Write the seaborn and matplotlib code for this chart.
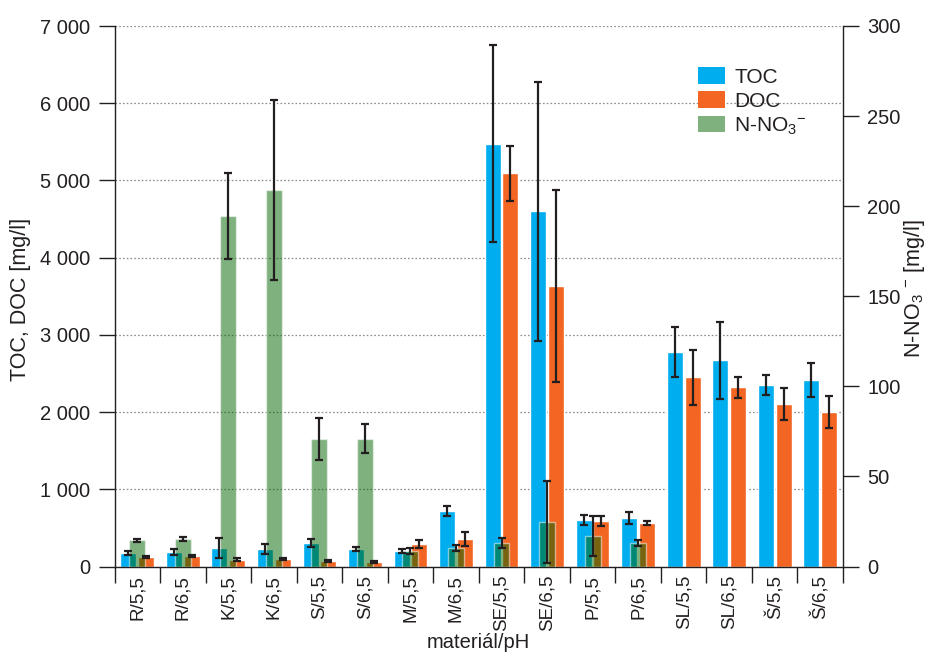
import numpy as np
import pandas as pd
import matplotlib
matplotlib.use("Agg")
import matplotlib.pyplot as plt
import matplotlib.ticker as mticker
from matplotlib.patches import Patch
import seaborn as sns

# ---------------- data ----------------
categories = ["R/5,5", "R/6,5", "K/5,5", "K/6,5", "S/5,5", "S/6,5", "M/5,5", "M/6,5",
              "SE/5,5", "SE/6,5", "P/5,5", "P/6,5", "SL/5,5", "SL/6,5", "Š/5,5", "Š/6,5"]
toc = [175, 188, 240, 227, 304, 227, 201, 719, 5475, 4600, 602, 628, 2780, 2670, 2347, 2412]
toc_err = [28, 35, 134, 60, 47, 23, 30, 65, 1276, 1677, 65, 78, 320, 500, 130, 220]
doc = [123, 136, 90, 95, 70, 60, 291, 356, 5090, 3634, 589, 563, 2450, 2320, 2100, 2000]
doc_err = [18, 15, 15, 12, 10, 10, 55, 93, 356, 1244, 67, 28, 355, 135, 207, 207]
no3 = [14.5, 15.3, 194.5, 209.0, 71.0, 71.0, 8.5, 10.3, 13.0, 24.7, 17.0, 13.0,
       np.nan, np.nan, np.nan, np.nan]
no3_err = [0.9, 1.1, 24.0, 50.0, 11.7, 7.9, 1.5, 1.7, 3.0, 22.6, 11.2, 1.7,
           np.nan, np.nan, np.nan, np.nan]
left_ticks = [0, 1000, 2000, 3000, 4000, 5000, 6000, 7000]
right_ticks = [0, 50, 100, 150, 200, 250, 300]

# ---------------- style ----------------
BLUE = "#00AEEF"
ORANGE = "#F26522"
GREEN = "#006400"
INK = "#231F20"
FS_Y = 14.5
FS_X = 13.5
FS_LAB = 15.5
FS_XLAB = 14.5
FS_LEG = 15

sns.set_style("ticks")
plt.rcParams["font.family"] = ["Liberation Sans", "DejaVu Sans"]
plt.rcParams["mathtext.default"] = "regular"
plt.rcParams["text.color"] = INK
plt.rcParams["axes.labelcolor"] = INK
plt.rcParams["xtick.color"] = INK
plt.rcParams["ytick.color"] = INK
plt.rcParams["axes.edgecolor"] = INK

fig = plt.figure(figsize=(9.34, 6.53), dpi=100)
ax = fig.add_axes([114.5 / 934, 1 - 566.5 / 653, 728.5 / 934, 540.5 / 653])
ax2 = ax.twinx()

df = pd.DataFrame({
    "cat": categories * 2,
    "var": ["TOC"] * len(categories) + ["DOC"] * len(categories),
    "value": toc + doc,
})

sns.barplot(data=df, x="cat", y="value", hue="var", hue_order=["TOC", "DOC"],
            order=categories, palette=[BLUE, ORANGE], width=0.78, gap=0.1,
            errorbar=None, legend=False, saturation=1, ax=ax, zorder=2)

df_n = pd.DataFrame({"cat": categories, "value": no3})
sns.barplot(data=df_n, x="cat", y="value", order=categories, color=GREEN,
            alpha=0.5, width=0.35, errorbar=None, saturation=1, ax=ax2, zorder=2)

n = len(categories)
ax.set_xlim(-0.5, n - 0.5)
ax.set_ylim(0, 7000)
ax2.set_ylim(0, 300)

# error bars
ekw = dict(fmt="none", ecolor=INK, elinewidth=1.6, capsize=2.7, capthick=1.6, zorder=5)
patches = list(ax.patches)
toc_x = [p.get_x() + p.get_width() / 2 for p in patches[:n]]
doc_x = [p.get_x() + p.get_width() / 2 for p in patches[n:2 * n]]
ax2.errorbar(toc_x, toc, yerr=toc_err, transform=ax.transData, **ekw)
ax2.errorbar(doc_x, doc, yerr=doc_err, transform=ax.transData, **ekw)

g_patches = [p for p in ax2.patches if np.isfinite(p.get_height()) and p.get_height() > 0]
mask = ~np.isnan(np.array(no3))
gx = [p.get_x() + p.get_width() / 2 for p in g_patches]
ax2.errorbar(gx, np.array(no3)[mask], yerr=np.array(no3_err)[mask], **ekw)
ax2.set_ylim(0, 300)
ax.set_xlim(-0.5, n - 0.5)

# grid
ax.set_axisbelow(True)
ax.yaxis.grid(True, linestyle=(0, (1.3, 1.7)), color="#8a8a8a", linewidth=0.9)
ax.xaxis.grid(False)

# spines
for s in ["top", "right"]:
    ax.spines[s].set_visible(False)
for s in ["top", "left", "bottom"]:
    ax2.spines[s].set_visible(False)
for a in (ax, ax2):
    for s in a.spines.values():
        s.set_linewidth(1.0)
        s.set_color(INK)

# ticks
fmt = mticker.FuncFormatter(lambda v, p: f"{int(round(v)):,}".replace(",", " "))
ax.set_yticks(left_ticks)
ax.yaxis.set_major_formatter(fmt)
ax2.set_yticks(right_ticks)
ax.tick_params(axis="y", which="major", direction="out", length=11.5, width=1.0,
               pad=6.0, labelsize=FS_Y)
ax2.tick_params(axis="y", which="major", direction="out", length=11.5, width=1.0,
                pad=6.0, labelsize=FS_Y)

ax.set_xticks(range(n))
ax.set_xticklabels(categories, rotation=90, fontsize=FS_X)
ax.set_xticks(np.arange(-0.5, n, 1.0), minor=True)
ax.tick_params(axis="x", which="major", length=0, pad=6.0)
ax.tick_params(axis="x", which="minor", direction="out", length=11.5, width=1.0)

# labels
ax.set_xlabel("materiál/pH", fontsize=FS_XLAB)
ax.xaxis.set_label_coords(0.5, (566.5 - 642) / 540.5)
ax.xaxis.label.set_va("center")
ax.set_ylabel("TOC, DOC [mg/l]", fontsize=FS_LAB)
ax.yaxis.set_label_coords((21 - 114.5) / 728.5, (566.5 - 299) / 540.5)
ax.yaxis.label.set_va("center")
ax2.set_ylabel("N-NO$_3$ $^{-}$ [mg/l]", fontsize=FS_LAB)
ax2.yaxis.set_label_coords((914 - 114.5) / 728.5, (566.5 - 289) / 540.5)
ax2.yaxis.label.set_va("center")

# legend
handles = [Patch(facecolor=BLUE, edgecolor="none"),
           Patch(facecolor=ORANGE, edgecolor="none"),
           Patch(facecolor=GREEN, alpha=0.5, edgecolor="none")]
labels = ["TOC", "DOC", "N-NO$_3$$^{-}$"]
leg = ax2.legend(handles, labels, loc="upper left",
                 bbox_to_anchor=((698 - 114.5) / 728.5, (566.5 - 67) / 540.5),
                 frameon=False, fontsize=FS_LEG, handlelength=1.3, handleheight=0.85,
                 handletextpad=0.45, labelspacing=0.22, borderpad=0, borderaxespad=0)

fig.savefig("out.png", dpi=100)
